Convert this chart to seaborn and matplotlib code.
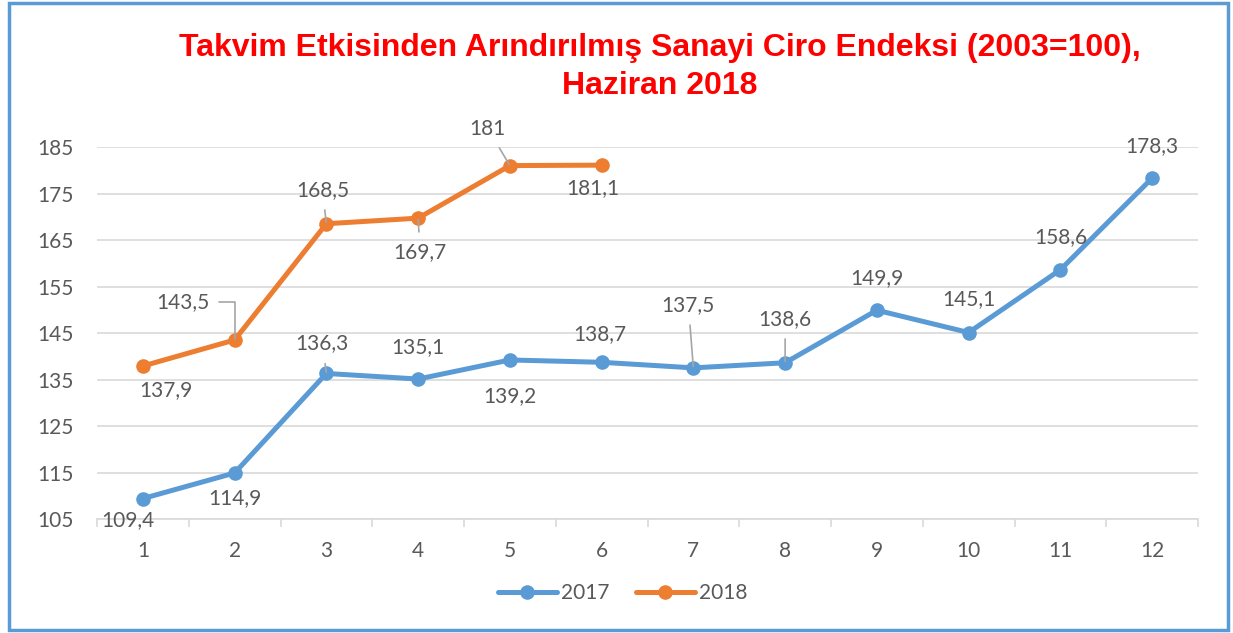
import matplotlib
matplotlib.use("Agg")
import matplotlib.pyplot as plt
from matplotlib.lines import Line2D
from matplotlib.patches import Rectangle
import seaborn as sns
import pandas as pd

months = [1, 2, 3, 4, 5, 6, 7, 8, 9, 10, 11, 12]
values_2017 = [109.4, 114.9, 136.3, 135.1, 139.2, 138.7, 137.5, 138.6, 149.9, 145.1, 158.6, 178.3]
values_2018 = [137.9, 143.5, 168.5, 169.7, 181.0, 181.1]
labels_2017 = ["109,4", "114,9", "136,3", "135,1", "139,2", "138,7", "137,5", "138,6", "149,9", "145,1", "158,6", "178,3"]
labels_2018 = ["137,9", "143,5", "168,5", "169,7", "181", "181,1"]
series_names = ["2017", "2018"]
y_ticks = [105, 115, 125, 135, 145, 155, 165, 175, 185]
title = "Takvim Etkisinden Arındırılmış Sanayi Ciro Endeksi (2003=100),\nHaziran 2018"

BLUE = "#5B9BD5"
ORANGE = "#ED7D31"
GRAY = "#595959"
GRID = "#D9D9D9"
FONT = ["Lato", "DejaVu Sans"]
FS = 15

df = pd.DataFrame({
    "month": months + months[:len(values_2018)],
    "value": values_2017 + values_2018,
    "year": [series_names[0]] * len(values_2017) + [series_names[1]] * len(values_2018),
})

sns.set_theme(style="white")
plt.rcParams["font.family"] = FONT

fig = plt.figure(figsize=(12.33, 6.33), dpi=100)
ax = fig.add_axes([97 / 1233, 1 - 519 / 633, (1198 - 97) / 1233, (519 - 147) / 633])

sns.lineplot(data=df, x="month", y="value", hue="year", palette=[BLUE, ORANGE],
             marker="o", markersize=10.5, markeredgewidth=0, linewidth=3.6,
             legend=False, ax=ax, zorder=3)

ax.set_xlim(0.5, 12.5)
ax.set_ylim(105, 185)
ax.set_yticks(y_ticks)
ax.set_yticklabels([str(v) for v in y_ticks])
ax.set_xticks(months)
ax.set_xticks([m + 0.5 for m in [0] + months], minor=True)
ax.set_xticklabels([str(m) for m in months])
ax.tick_params(axis="y", length=0, labelsize=FS, labelcolor=GRAY, pad=17)
ax.tick_params(axis="x", which="major", length=0, labelsize=FS, labelcolor=GRAY, pad=16)
ax.tick_params(axis="x", which="minor", bottom=True, length=6, width=1.2, color=GRID,
               direction="out")
ax.set_xlabel("")
ax.set_ylabel("")
for s in ["top", "right", "left"]:
    ax.spines[s].set_visible(False)
ax.spines["bottom"].set_color(GRID)
ax.spines["bottom"].set_linewidth(1.2)
ax.yaxis.grid(True, color=GRID, linewidth=1.2)
ax.set_axisbelow(True)

# data labels: (dx, dy) offsets in pixels, leader-line style (None = no leader)
off_2017 = [(-15, -22, None), (0, -25, None), (-4, 30, "arc3"), (0, 32, None), (0, -36, None),
            (-2, 28, None), (-5, 63, "arc3"), (0, 44, "arc3"), (0, 32, None), (0, 33, None),
            (0, 33, None), (0, 32, None)]
off_2018 = [(23, -24, None), (-52, 38, "angle,angleA=0,angleB=90,rad=0"), (-4, 34, "arc3"),
            (2, -34, "arc3"), (-22, 37, "arc3"), (-9, -23, None)]

def place(xs, ys, labels, offs):
    for x, y, lab, (dx, dy, lead) in zip(xs, ys, labels, offs):
        kw = {}
        if lead:
            kw["arrowprops"] = dict(arrowstyle="-", color="#A6A6A6", lw=1.2,
                                    shrinkA=5, shrinkB=1, connectionstyle=lead)
        ax.annotate(lab, (x, y), xytext=(dx, dy), textcoords="offset pixels",
                    ha="center", va="center", fontsize=FS, color=GRAY, zorder=5, **kw)

place(months, values_2017, labels_2017, off_2017)
place(months[:len(values_2018)], values_2018, labels_2018, off_2018)

fig.text(0.535, 1 - 67 / 633, title, ha="center", va="center", fontsize=23,
         fontweight="bold", color="#FF0000", family=["Liberation Sans", "DejaVu Sans"],
         linespacing=1.35)

handles = [Line2D([], [], color=c, marker="o", markersize=10.5, markeredgewidth=0, linewidth=3.6)
           for c in [BLUE, ORANGE]]
fig.legend(handles, series_names, loc="center", bbox_to_anchor=(0.505, 1 - 593 / 633),
           ncol=2, frameon=False, fontsize=FS, labelcolor=GRAY, handlelength=2.8,
           handletextpad=0.2, columnspacing=1.3)

fig.patches.append(Rectangle((9 / 1233, 3 / 633), (1228 - 9) / 1233, (630 - 3) / 633,
                             transform=fig.transFigure, fill=False, edgecolor=BLUE,
                             linewidth=2.5, zorder=10))

fig.savefig("out.png", dpi=100, facecolor="white")
